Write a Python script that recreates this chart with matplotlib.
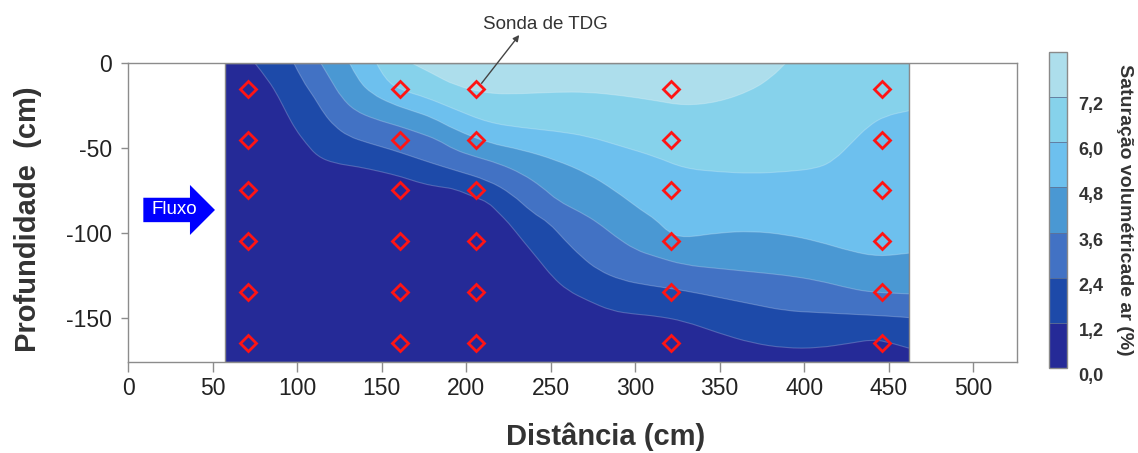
import matplotlib
matplotlib.use("Agg")
import numpy as np
import matplotlib.pyplot as plt
import matplotlib.patches as mpatches
from matplotlib.path import Path
from matplotlib.colors import ListedColormap, BoundaryNorm
from matplotlib.cm import ScalarMappable

plt.rcParams['font.family'] = ['Liberation Sans', 'DejaVu Sans']
plt.rcParams['axes.unicode_minus'] = False

# Air saturation classes (%) and their fill colours
levels = [0.0, 1.2, 2.4, 3.6, 4.8, 6.0, 7.2, 8.4]
band_colors = ['#252A97', '#1D4AA9', '#4272C4', '#4A98D3',
               '#6DC0EE', '#86D2EB', '#ADDEEC']

# Monitored soil section (cm)
section_x = [57, 462]
section_depth = [-176, 0]

# TDR probe grid (cm)
probe_x = [71, 161, 206, 321, 446]
probe_depth = [-15, -45, -75, -105, -135, -165]

# Iso-saturation lines (distance, depth) in cm
iso12_x = [75, 83, 89, 94, 99, 105, 112, 122, 136, 150, 162, 174, 185, 193, 205,
           213, 219, 225, 233, 243, 251, 260, 272, 286, 300, 312, 329, 349, 369,
           389, 408, 428, 440, 448, 462]
iso12_y = [0, -10, -20, -30, -39, -47, -55, -59, -61, -64, -67, -71, -73, -74, -79,
           -82, -88, -94, -104, -116, -126, -134, -140, -146, -148, -149, -152, -159,
           -165, -168, -168, -165, -163, -164, -168]

iso24_x = [98, 103, 110, 116, 122, 130, 142, 156, 168, 180, 193, 213, 227, 239,
           249, 258, 268, 278, 292, 308, 329, 349, 369, 389, 408, 428, 448, 462]
iso24_y = [0, -10, -20, -30, -37, -43, -47, -51, -55, -59, -63, -69, -77, -88,
           -94, -104, -114, -122, -128, -131, -134, -138, -142, -146, -147, -148,
           -149, -150]

iso36_x = [114, 120, 126, 134, 146, 160, 172, 183, 193, 205, 219, 233, 245, 254,
           268, 278, 288, 300, 312, 329, 349, 369, 389, 408, 428, 440, 462]
iso36_y = [0, -10, -20, -28, -33, -37, -41, -45, -51, -55, -59, -65, -73, -81,
           -88, -94, -102, -110, -114, -119, -121, -123, -125, -128, -133, -135, -136]

iso48_x = [131, 136, 144, 156, 168, 180, 193, 213, 233, 253, 272, 288, 304, 312,
           320, 329, 349, 369, 389, 408, 428, 444, 462]
iso48_y = [0, -10, -18, -24, -28, -32, -39, -47, -51, -57, -65, -75, -87, -92,
           -100, -103, -100, -99, -101, -105, -111, -114, -112]

iso60_x = [147, 152, 162, 176, 193, 213, 233, 253, 272, 292, 312, 329, 349, 369,
           389, 408, 418, 428, 438, 448, 462]
iso60_y = [0, -10, -16, -20, -27, -35, -38, -40, -43, -49, -55, -62, -64, -65,
           -64, -62, -57, -47, -37, -31, -28]

iso72_x = [168, 180, 193, 213, 233, 253, 272, 292, 312, 329, 349, 369, 381, 389]
iso72_y = [0, -6, -13, -18, -18, -17, -17, -19, -22, -25, -23, -16, -8, 0]

iso_lines = [(iso12_x, iso12_y), (iso24_x, iso24_y), (iso36_x, iso36_y),
             (iso48_x, iso48_y), (iso60_x, iso60_y), (iso72_x, iso72_y)]


def smooth_path(xs, ys, close_to_top=False):
    """Quadratic-Bezier path through the iso-line vertices (vertices act as
    control points, curve passes through the mid-points)."""
    pts = np.column_stack([xs, ys]).astype(float)
    verts = [pts[0]]
    codes = [Path.MOVETO]
    for i in range(1, len(pts) - 1):
        mid = (pts[i] + pts[i + 1]) / 2.0
        verts += [pts[i], mid]
        codes += [Path.CURVE3, Path.CURVE3]
    verts.append(pts[-1])
    codes.append(Path.LINETO)
    if close_to_top:
        if pts[-1][1] < 0:
            verts.append((pts[-1][0], 0.0))
            codes.append(Path.LINETO)
        verts.append(pts[0])
        codes.append(Path.CLOSEPOLY)
    return Path(verts, codes)


cmap = ListedColormap(band_colors)
norm = BoundaryNorm(levels, cmap.N)

W, H = 1138, 453
fig = plt.figure(figsize=(W / 100, H / 100), dpi=100)
ax = fig.add_axes([128.3 / W, 1 - 361.7 / H, (1017 - 128.3) / W, (361.7 - 63.3) / H])

# lowest class fills the whole section
x0, x1 = section_x
d0, d1 = section_depth
ax.add_patch(mpatches.Rectangle((x0, d0), x1 - x0, d1 - d0,
                                facecolor=cmap(norm(levels[0])), edgecolor='none', zorder=1))

# each higher class painted above its lower iso-line
for lev, (bx, by) in zip(levels[1:7], iso_lines):
    ax.add_patch(mpatches.PathPatch(smooth_path(bx, by, close_to_top=True),
                                    facecolor=cmap(norm(lev)), edgecolor='none',
                                    zorder=2))
    ax.add_patch(mpatches.PathPatch(smooth_path(bx, by), facecolor='none',
                                    edgecolor=(1, 1, 1, 0.22), lw=0.8, zorder=3))

ax.add_patch(mpatches.Rectangle((x0, d0), x1 - x0, d1 - d0, facecolor='none',
                                edgecolor='#8a8a8a', lw=1.0, zorder=4))

# probes
PX, PY = np.meshgrid(probe_x, probe_depth)
ax.plot(PX.ravel(), PY.ravel(), ls='none', marker='D', ms=8, mfc='none',
        mec='#ff1414', mew=2.0, zorder=6)

ax.set_xlim(0, 526)
ax.set_ylim(-176, 0)
ax.set_xticks(range(0, 501, 50))
ax.set_yticks([0, -50, -100, -150])
for s in ax.spines.values():
    s.set_color('#8c8c8c')
    s.set_linewidth(1.0)
ax.tick_params(axis='both', labelsize=16.5, labelcolor='#222', color='#8c8c8c',
               direction='out', width=1)
ax.tick_params(axis='x', length=7, pad=4)
ax.tick_params(axis='y', length=5, pad=7)

# probe callout
ax.annotate('', xy=(231.4, 16.7), xytext=(209.1, -11.8),
            arrowprops=dict(arrowstyle='-|>', color='#444444', lw=1.0,
                            mutation_scale=9, shrinkA=0, shrinkB=0),
            annotation_clip=False, zorder=7)
ax.text(246.9, 23.1, 'Sonda de TDG', ha='center', va='center', fontsize=13.5,
        color='#333333', clip_on=False)

# flow direction
ax.add_patch(mpatches.FancyArrow(8.9, -86.5, 42.4, 0, width=14.4, head_width=29.5,
                                 head_length=14.8, length_includes_head=True,
                                 facecolor='#0000ff', edgecolor='none',
                                 clip_on=False, zorder=5))
ax.text(27, -86.5, 'Fluxo', ha='center', va='center', fontsize=13.5,
        color='white', zorder=6)

fig.text(606 / W, 1 - 437 / H, 'Distância (cm)', ha='center', va='center',
         fontsize=21, fontweight='bold', color='#333333')
fig.text(28 / W, 1 - 219 / H, 'Profundidade  (cm)', ha='center', va='center',
         rotation=90, fontsize=21, fontweight='bold', color='#333333')

# colour scale
cax = fig.add_axes([1049 / W, 1 - 368.3 / H, 18.3 / W, 316.6 / H])
cb = fig.colorbar(ScalarMappable(norm=norm, cmap=cmap), cax=cax,
                  ticks=levels[:-1], drawedges=True)
cb.outline.set_edgecolor('#8a8a8a')
cb.outline.set_linewidth(1.0)
cb.dividers.set_color('#5f7396')
cb.dividers.set_linewidth(0.6)
cax.minorticks_off()
cax.tick_params(which='both', length=0, pad=8)
cax.set_yticklabels([f'{v:.1f}'.replace('.', ',') for v in levels[:-1]],
                    fontsize=13, fontweight='bold', color='#333333', va='top')
fig.text(1125 / W, 1 - 210 / H, 'Saturação volumétricade ar (%)', ha='center',
         va='center', rotation=270, fontsize=14, fontweight='bold', color='#333333')

fig.savefig('out.png', dpi=100)
